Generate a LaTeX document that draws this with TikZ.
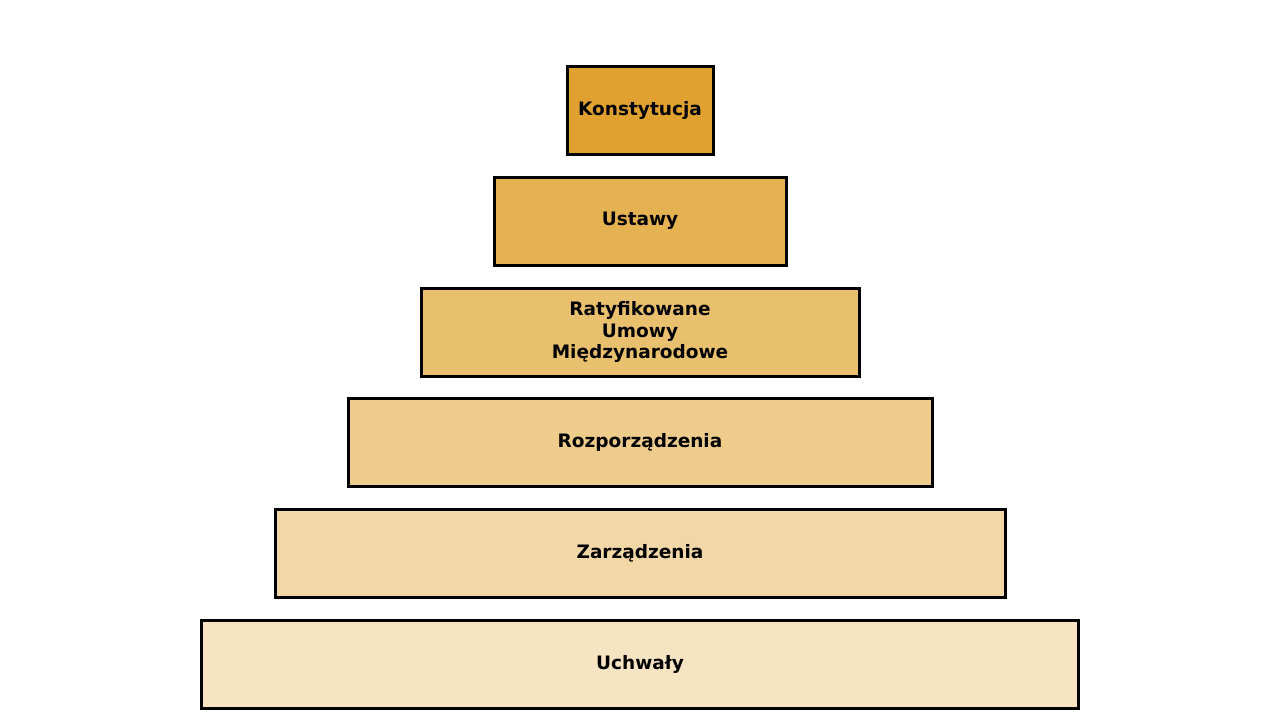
\documentclass[tikz,border=0pt]{standalone}
\usepackage{fontspec}
\setmainfont{DejaVu Sans}
\definecolor{levelOne}{RGB}{224,161,48}
\definecolor{levelTwo}{RGB}{228,178,80}
\definecolor{levelThree}{RGB}{233,192,110}
\definecolor{levelFour}{RGB}{237,204,140}
\definecolor{levelFive}{RGB}{242,216,167}
\definecolor{levelSix}{RGB}{247,228,195}
\usepackage{tikz}
\usetikzlibrary{positioning}

\begin{document}
\begin{tikzpicture}[x=1pt,y=1pt,
    tier/.style={draw=black, line width=3pt, minimum height=88pt,
      inner sep=0pt, align=center,
      font=\fontsize{18.5}{21.5}\selectfont\bfseries}]
      \useasboundingbox (0,0) rectangle (1280,-720);
      % Pyramid tiers
      \node[tier, fill=levelOne, minimum width=146pt]
        (konstytucja) at (640,-110) {Konstytucja};
      \node[tier, fill=levelTwo, minimum width=292pt]
        (ustawy) at (640,-221) {Ustawy};
      \node[tier, fill=levelThree, minimum width=438pt]
        (umowy) at (640,-332) {Ratyfikowane\\Umowy\\Międzynarodowe};
      \node[tier, fill=levelFour, minimum width=584pt]
        (rozporzadzenia) at (640,-442) {Rozporządzenia};
      \node[tier, fill=levelFive, minimum width=730pt]
        (zarzadzenia) at (640,-553) {Zarządzenia};
      \node[tier, fill=levelSix, minimum width=877pt]
        (uchwaly) at (640,-664) {Uchwały};
    \end{tikzpicture}
\end{document}
